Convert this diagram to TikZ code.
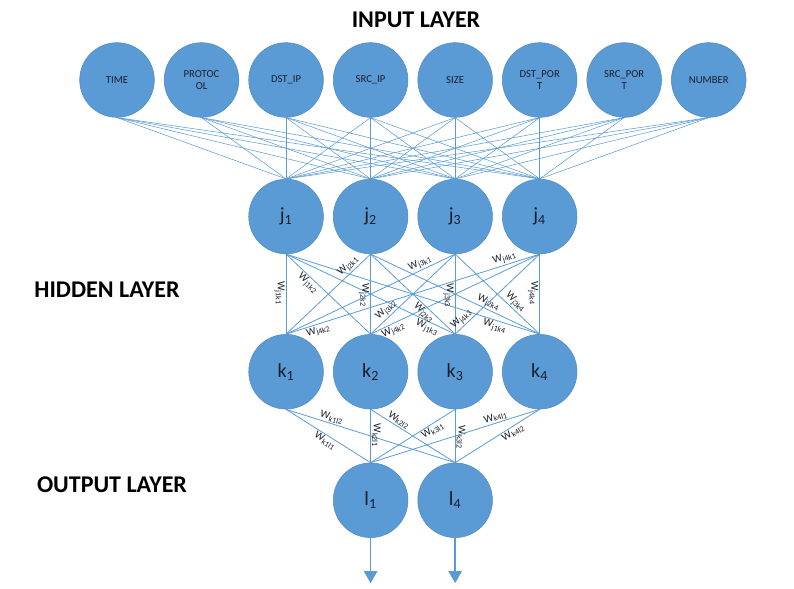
\documentclass[tikz,border=0pt]{standalone}
\usepackage{fontspec}
\setmainfont{Carlito}
\usetikzlibrary{positioning,arrows.meta}
\definecolor{nnblue}{RGB}{91,155,213}
\definecolor{nnedge}{RGB}{80,138,196}
\definecolor{nntext}{RGB}{25,30,45}
\newcommand{\wlab}[1]{W\textsubscript{#1}}

\begin{document}
\begin{tikzpicture}[x=0.75pt, y=-0.75pt, node distance=7pt,
    unit/.style={circle, fill=nnblue, draw=nnedge, line width=0.4pt, minimum size=56pt, inner sep=0pt, text=nntext},
    inunit/.style={unit, font=\fontsize{8}{9}\selectfont, align=center},
    hidunit/.style={unit, font=\fontsize{15}{16}\selectfont},
    wire/.style={draw=nnblue, line width=0.6pt},
    weight/.style={sloped, inner sep=0.8pt, text=nntext, font=\fontsize{8}{9}\selectfont},
    layer/.style={font=\bfseries\fontsize{18}{20}\selectfont, text=black}]
            \useasboundingbox (0,0) rectangle (794,589);

            \node [layer] (inlayer) at (416,20) {INPUT LAYER};
            \node [layer] (hidlayer) at (107,290) {HIDDEN LAYER};
            \node [layer] (outlayer) at (112,485) {OUTPUT LAYER};

            \node [inunit] (time) at (117,80) {TIME};
            \node [inunit, right=of time] (proto) {PROTOC\\OL};
            \node [inunit, right=of proto] (dstip) {DST\_IP};
            \node [inunit, right=of dstip] (srcip) {SRC\_IP};
            \node [inunit, right=of srcip] (size) {SIZE};
            \node [inunit, right=of size] (dstport) {DST\_POR\\T};
            \node [inunit, right=of dstport] (srcport) {SRC\_POR\\T};
            \node [inunit, right=of srcport] (number) {NUMBER};

            \node [hidunit, below=46pt of dstip] (j1) {j\textsubscript{1}};
            \node [hidunit, right=of j1] (j2) {j\textsubscript{2}};
            \node [hidunit, right=of j2] (j3) {j\textsubscript{3}};
            \node [hidunit, right=of j3] (j4) {j\textsubscript{4}};

            \node [hidunit, below=60pt of j1] (k1) {k\textsubscript{1}};
            \node [hidunit, right=of k1] (k2) {k\textsubscript{2}};
            \node [hidunit, right=of k2] (k3) {k\textsubscript{3}};
            \node [hidunit, right=of k3] (k4) {k\textsubscript{4}};

            \node [hidunit, below=40pt of k2] (l1) {l\textsubscript{1}};
            \node [hidunit, right=of l1] (l4) {l\textsubscript{4}};

            % input layer to j units
            \foreach \src in {time,proto,dstip,srcip,size,dstport,srcport,number}
                \foreach \dst in {j1,j2,j3,j4}
                    \draw [wire, line width=0.4pt] (\src.south) -- (\dst.north);

            % j units to k units
            \draw [wire] (j1.south) -- (k1.north) node [weight, pos=0.49, below] {\wlab{j1k1}};
            \draw [wire] (j1.south) -- (k2.north) node [weight, pos=0.31, below] {\wlab{j1k2}};
            \draw [wire] (j1.south) -- (k3.north) node [weight, pos=0.85, below] {\wlab{j1k3}};
            \draw [wire] (j1.south) -- (k4.north) node [weight, pos=0.83, below] {\wlab{j1k4}};
            \draw [wire] (j2.south) -- (k1.north) node [weight, pos=0.21, above] {\wlab{j2k1}};
            \draw [wire] (j2.south) -- (k2.north) node [weight, pos=0.51, below] {\wlab{j2k2}};
            \draw [wire] (j2.south) -- (k3.north) node [weight, pos=0.68, below] {\wlab{j2k3}};
            \draw [wire] (j2.south) -- (k4.north) node [weight, pos=0.68, above] {\wlab{j2k4}};
            \draw [wire] (j3.south) -- (k1.north) node [weight, pos=0.19, above] {\wlab{j3k1}};
            \draw [wire] (j3.south) -- (k2.north) node [weight, pos=0.76, above] {\wlab{j3k2}};
            \draw [wire] (j3.south) -- (k3.north) node [weight, pos=0.52, below] {\wlab{j3k3}};
            \draw [wire] (j3.south) -- (k4.north) node [weight, pos=0.66, above] {\wlab{j3k4}};
            \draw [wire] (j4.south) -- (k1.north) node [weight, pos=0.13, above] {\wlab{j4k1}}
                node [weight, pos=0.88, below] {\wlab{j4k2}};
            \draw [wire] (j4.south) -- (k2.north) node [weight, pos=0.88, below] {\wlab{j4k2}};
            \draw [wire] (j4.south) -- (k3.north) node [weight, pos=0.87, above] {\wlab{j4k3}};
            \draw [wire] (j4.south) -- (k4.north) node [weight, pos=0.49, below] {\wlab{j4k4}};

            % k units to output
            \draw [wire] (k1.south) -- (l1.north) node [weight, pos=0.5, below] {\wlab{k1l1}};
            \draw [wire] (k1.south) -- (l4.north) node [weight, pos=0.26, above] {\wlab{k1l2}};
            \draw [wire] (k2.south) -- (l1.north) node [weight, pos=0.49, above] {\wlab{k2l1}};
            \draw [wire] (k2.south) -- (l4.north) node [weight, pos=0.3, above] {\wlab{k2l2}};
            \draw [wire] (k3.south) -- (l1.north) node [weight, pos=0.3, below] {\wlab{k3l1}};
            \draw [wire] (k3.south) -- (l4.north) node [weight, pos=0.53, above] {\wlab{k3l2}};
            \draw [wire] (k4.south) -- (l1.north) node [weight, pos=0.25, above] {\wlab{k4l1}};
            \draw [wire] (k4.south) -- (l4.north) node [weight, pos=0.35, below] {\wlab{k4l2}};

            \coordinate [below=34pt of l1] (out1);
            \coordinate [below=34pt of l4] (out4);
            \draw [wire, line width=1pt, -{Triangle[width=10pt,length=9pt]}] (l1) -- (out1);
            \draw [wire, line width=1pt, -{Triangle[width=10pt,length=9pt]}] (l4) -- (out4);
        \end{tikzpicture}
\end{document}
